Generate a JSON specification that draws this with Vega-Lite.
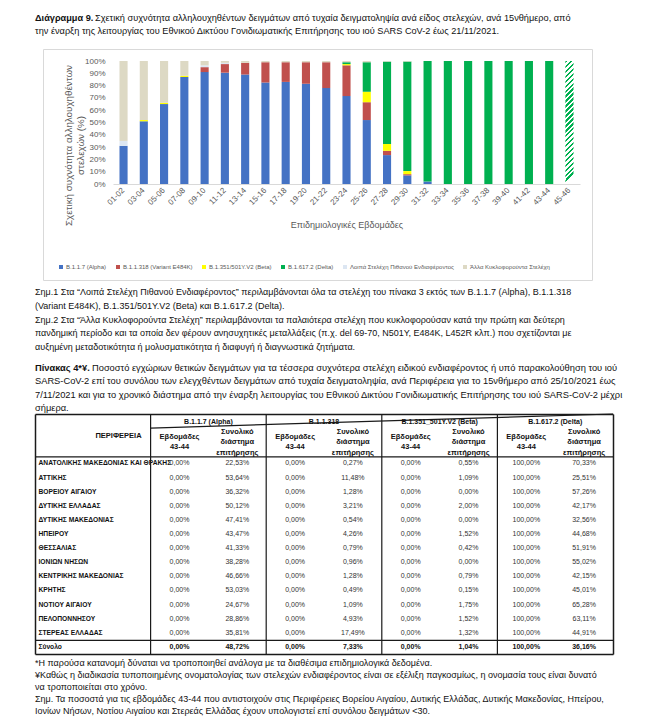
{
  "$schema": "https://vega.github.io/schema/vega-lite/v6.json",
  "background": "white",
  "padding": {"left": 35, "top": 0, "right": 5, "bottom": 0},
  "config": {"font": "Liberation Sans", "view": {"stroke": null}},
  "bounds": "flush",
  "spacing": 0,
  "resolve": {"scale": {"x": "independent", "y": "independent", "color": "independent"}, "legend": {"color": "independent"}},
  "datasets": {
    "cap": [
      {"n": 1, "seg": "head", "t": "Διάγραμμα 9."},
      {"n": 1, "seg": "rest", "t": "Σχετική συχνότητα αλληλουχηθέντων δειγμάτων από τυχαία δειγματοληψία ανά είδος στελεχών, ανά 15νθήμερο, από"},
      {"n": 2, "seg": "line", "t": "την έναρξη της λειτουργίας του Εθνικού Δικτύου Γονιδιωματικής Επιτήρησης του ιού SARS CoV-2 έως 21/11/2021."}
    ],
    "notes": [
      {"n": 1, "t": "Σημ.1 Στα “Λοιπά Στελέχη Πιθανού Ενδιαφέροντος” περιλαμβάνονται όλα τα στελέχη του πίνακα 3 εκτός των B.1.1.7 (Alpha), B.1.1.318"},
      {"n": 2, "t": "(Variant E484K), B.1.351/501Y.V2 (Beta) και B.1.617.2 (Delta)."},
      {"n": 3, "t": "Σημ.2 Στα “Άλλα Κυκλοφορούντα Στελέχη” περιλαμβάνονται τα παλαιότερα στελέχη που κυκλοφορούσαν κατά την πρώτη και δεύτερη"},
      {"n": 4, "t": "πανδημική περίοδο και τα οποία δεν φέρουν ανησυχητικές μεταλλάξεις (π.χ. del 69-70, N501Y, E484K, L452R κλπ.) που σχετίζονται με"},
      {"n": 5, "t": "αυξημένη μεταδοτικότητα ή μολυσματικότητα ή διαφυγή ή διαγνωστικά ζητήματα."}
    ],
    "tcap": [
      {"n": 1, "seg": "head", "t": "Πίνακας 4*¥."},
      {"n": 1, "seg": "rest", "t": "Ποσοστό εγχώριων θετικών δειγμάτων για τα τέσσερα συχνότερα στελέχη ειδικού ενδιαφέροντος ή υπό παρακολούθηση του ιού"},
      {"n": 2, "seg": "line", "t": "SARS-CoV-2 επί του συνόλου των ελεγχθέντων δειγμάτων από τυχαία δειγματοληψία, ανά Περιφέρεια για το 15νθήμερο από 25/10/2021 έως"},
      {"n": 3, "seg": "line", "t": "7/11/2021 και για το χρονικό διάστημα από την έναρξη λειτουργίας του Εθνικού Δικτύου Γονιδιωματικής Επιτήρησης του ιού SARS-CoV-2 μέχρι"},
      {"n": 4, "seg": "line", "t": "σήμερα."}
    ],
    "foot": [
      {"n": 1, "t": "*Η παρούσα κατανομή δύναται να τροποποιηθεί ανάλογα με τα διαθέσιμα επιδημιολογικά δεδομένα."},
      {"n": 2, "t": "¥Καθώς η διαδικασία τυποποιημένης ονοματολογίας των στελεχών ενδιαφέροντος είναι σε εξέλιξη παγκοσμίως, η ονομασία τους είναι δυνατό"},
      {"n": 3, "t": "να τροποποιείται στο χρόνο."},
      {"n": 4, "t": "Σημ. Τα ποσοστά για τις εβδομάδες 43-44 που αντιστοιχούν στις Περιφέρειες Βορείου Αιγαίου, Δυτικής Ελλάδας, Δυτικής Μακεδονίας, Ηπείρου,"},
      {"n": 5, "t": "Ιονίων Νήσων, Νοτίου Αιγαίου και Στερεάς Ελλάδας έχουν υπολογιστεί επί συνόλου δειγμάτων <30."}
    ],
    "rank": [
      {"s": "B.1.1.7 (Alpha)", "k": 1},
      {"s": "B.1.1.318 (Variant E484K)", "k": 2},
      {"s": "B.1.351/501Y.V2 (Beta)", "k": 3},
      {"s": "B.1.617.2 (Delta)", "k": 4},
      {"s": "Λοιπά Στελέχη Πιθανού Ενδιαφέροντος", "k": 5},
      {"s": "Άλλα Κυκλοφορούντα Στελέχη", "k": 6}
    ],
    "chart": [
      {"w": "01-02", "s": "B.1.1.7 (Alpha)", "p": 31},
      {"w": "01-02", "s": "Λοιπά Στελέχη Πιθανού Ενδιαφέροντος", "p": 4},
      {"w": "01-02", "s": "Άλλα Κυκλοφορούντα Στελέχη", "p": 65},
      {"w": "03-04", "s": "B.1.1.7 (Alpha)", "p": 51},
      {"w": "03-04", "s": "B.1.351/501Y.V2 (Beta)", "p": 1},
      {"w": "03-04", "s": "Άλλα Κυκλοφορούντα Στελέχη", "p": 48},
      {"w": "05-06", "s": "B.1.1.7 (Alpha)", "p": 65},
      {"w": "05-06", "s": "B.1.351/501Y.V2 (Beta)", "p": 1},
      {"w": "05-06", "s": "Άλλα Κυκλοφορούντα Στελέχη", "p": 34},
      {"w": "07-08", "s": "B.1.1.7 (Alpha)", "p": 87},
      {"w": "07-08", "s": "B.1.351/501Y.V2 (Beta)", "p": 1},
      {"w": "07-08", "s": "Άλλα Κυκλοφορούντα Στελέχη", "p": 12},
      {"w": "09-10", "s": "B.1.1.7 (Alpha)", "p": 91},
      {"w": "09-10", "s": "B.1.1.318 (Variant E484K)", "p": 4},
      {"w": "09-10", "s": "Λοιπά Στελέχη Πιθανού Ενδιαφέροντος", "p": 1.5},
      {"w": "09-10", "s": "Άλλα Κυκλοφορούντα Στελέχη", "p": 3.5},
      {"w": "11-12", "s": "B.1.1.7 (Alpha)", "p": 90.5},
      {"w": "11-12", "s": "B.1.1.318 (Variant E484K)", "p": 7},
      {"w": "11-12", "s": "Λοιπά Στελέχη Πιθανού Ενδιαφέροντος", "p": 1},
      {"w": "11-12", "s": "Άλλα Κυκλοφορούντα Στελέχη", "p": 1.5},
      {"w": "13-14", "s": "B.1.1.7 (Alpha)", "p": 89},
      {"w": "13-14", "s": "B.1.1.318 (Variant E484K)", "p": 9.5},
      {"w": "13-14", "s": "Άλλα Κυκλοφορούντα Στελέχη", "p": 1.5},
      {"w": "15-16", "s": "B.1.1.7 (Alpha)", "p": 82.5},
      {"w": "15-16", "s": "B.1.1.318 (Variant E484K)", "p": 16.5},
      {"w": "15-16", "s": "Άλλα Κυκλοφορούντα Στελέχη", "p": 1},
      {"w": "17-18", "s": "B.1.1.7 (Alpha)", "p": 83},
      {"w": "17-18", "s": "B.1.1.318 (Variant E484K)", "p": 16},
      {"w": "17-18", "s": "Άλλα Κυκλοφορούντα Στελέχη", "p": 1},
      {"w": "19-20", "s": "B.1.1.7 (Alpha)", "p": 81.5},
      {"w": "19-20", "s": "B.1.1.318 (Variant E484K)", "p": 17.5},
      {"w": "19-20", "s": "Άλλα Κυκλοφορούντα Στελέχη", "p": 1},
      {"w": "21-22", "s": "B.1.1.7 (Alpha)", "p": 78},
      {"w": "21-22", "s": "B.1.1.318 (Variant E484K)", "p": 21},
      {"w": "21-22", "s": "Άλλα Κυκλοφορούντα Στελέχη", "p": 1},
      {"w": "23-24", "s": "B.1.1.7 (Alpha)", "p": 71.5},
      {"w": "23-24", "s": "B.1.1.318 (Variant E484K)", "p": 25},
      {"w": "23-24", "s": "B.1.351/501Y.V2 (Beta)", "p": 1},
      {"w": "23-24", "s": "B.1.617.2 (Delta)", "p": 1.5},
      {"w": "23-24", "s": "Άλλα Κυκλοφορούντα Στελέχη", "p": 1},
      {"w": "25-26", "s": "B.1.1.7 (Alpha)", "p": 52},
      {"w": "25-26", "s": "B.1.1.318 (Variant E484K)", "p": 14.5},
      {"w": "25-26", "s": "B.1.351/501Y.V2 (Beta)", "p": 8.5},
      {"w": "25-26", "s": "B.1.617.2 (Delta)", "p": 24},
      {"w": "25-26", "s": "Άλλα Κυκλοφορούντα Στελέχη", "p": 1},
      {"w": "27-28", "s": "B.1.1.7 (Alpha)", "p": 23.5},
      {"w": "27-28", "s": "B.1.1.318 (Variant E484K)", "p": 3.5},
      {"w": "27-28", "s": "B.1.351/501Y.V2 (Beta)", "p": 5.5},
      {"w": "27-28", "s": "B.1.617.2 (Delta)", "p": 67},
      {"w": "27-28", "s": "Άλλα Κυκλοφορούντα Στελέχη", "p": 0.5},
      {"w": "29-30", "s": "B.1.1.7 (Alpha)", "p": 7},
      {"w": "29-30", "s": "B.1.1.318 (Variant E484K)", "p": 1},
      {"w": "29-30", "s": "B.1.351/501Y.V2 (Beta)", "p": 2.5},
      {"w": "29-30", "s": "B.1.617.2 (Delta)", "p": 89},
      {"w": "29-30", "s": "Άλλα Κυκλοφορούντα Στελέχη", "p": 0.5},
      {"w": "31-32", "s": "B.1.1.7 (Alpha)", "p": 2},
      {"w": "31-32", "s": "B.1.617.2 (Delta)", "p": 98},
      {"w": "33-34", "s": "B.1.617.2 (Delta)", "p": 100},
      {"w": "35-36", "s": "B.1.617.2 (Delta)", "p": 100},
      {"w": "37-38", "s": "B.1.617.2 (Delta)", "p": 100},
      {"w": "39-40", "s": "B.1.617.2 (Delta)", "p": 100},
      {"w": "41-42", "s": "B.1.617.2 (Delta)", "p": 100},
      {"w": "43-44", "s": "B.1.617.2 (Delta)", "p": 100},
      {"w": "45-46", "s": "B.1.617.2 (Delta)", "p": 100, "provisional": true}
    ],
    "tbl": [
      {"r": "ΑΝΑΤΟΛΙΚΗΣ ΜΑΚΕΔΟΝΙΑΣ ΚΑΙ ΘΡΑΚΗΣ", "a1": "0,00%", "a2": "22,53%", "b1": "0,00%", "b2": "0,27%", "c1": "0,00%", "c2": "0,55%", "d1": "100,00%", "d2": "70,33%"},
      {"r": "ΑΤΤΙΚΗΣ", "a1": "0,00%", "a2": "53,64%", "b1": "0,00%", "b2": "11,48%", "c1": "0,00%", "c2": "1,09%", "d1": "100,00%", "d2": "25,51%"},
      {"r": "ΒΟΡΕΙΟΥ ΑΙΓΑΙΟΥ", "a1": "0,00%", "a2": "36,32%", "b1": "0,00%", "b2": "1,28%", "c1": "0,00%", "c2": "0,00%", "d1": "100,00%", "d2": "57,26%"},
      {"r": "ΔΥΤΙΚΗΣ ΕΛΛΑΔΑΣ", "a1": "0,00%", "a2": "50,12%", "b1": "0,00%", "b2": "3,21%", "c1": "0,00%", "c2": "2,00%", "d1": "100,00%", "d2": "42,17%"},
      {"r": "ΔΥΤΙΚΗΣ ΜΑΚΕΔΟΝΙΑΣ", "a1": "0,00%", "a2": "47,41%", "b1": "0,00%", "b2": "0,54%", "c1": "0,00%", "c2": "0,00%", "d1": "100,00%", "d2": "32,56%"},
      {"r": "ΗΠΕΙΡΟΥ", "a1": "0,00%", "a2": "43,47%", "b1": "0,00%", "b2": "4,26%", "c1": "0,00%", "c2": "1,52%", "d1": "100,00%", "d2": "44,68%"},
      {"r": "ΘΕΣΣΑΛΙΑΣ", "a1": "0,00%", "a2": "41,33%", "b1": "0,00%", "b2": "0,79%", "c1": "0,00%", "c2": "0,42%", "d1": "100,00%", "d2": "51,91%"},
      {"r": "ΙΟΝΙΩΝ ΝΗΣΩΝ", "a1": "0,00%", "a2": "38,28%", "b1": "0,00%", "b2": "0,96%", "c1": "0,00%", "c2": "0,00%", "d1": "100,00%", "d2": "55,02%"},
      {"r": "ΚΕΝΤΡΙΚΗΣ ΜΑΚΕΔΟΝΙΑΣ", "a1": "0,00%", "a2": "46,66%", "b1": "0,00%", "b2": "1,28%", "c1": "0,00%", "c2": "0,79%", "d1": "100,00%", "d2": "42,15%"},
      {"r": "ΚΡΗΤΗΣ", "a1": "0,00%", "a2": "53,03%", "b1": "0,00%", "b2": "0,49%", "c1": "0,00%", "c2": "0,15%", "d1": "100,00%", "d2": "45,01%"},
      {"r": "ΝΟΤΙΟΥ ΑΙΓΑΙΟΥ", "a1": "0,00%", "a2": "24,67%", "b1": "0,00%", "b2": "1,09%", "c1": "0,00%", "c2": "1,75%", "d1": "100,00%", "d2": "65,28%"},
      {"r": "ΠΕΛΟΠΟΝΝΗΣΟΥ", "a1": "0,00%", "a2": "28,86%", "b1": "0,00%", "b2": "4,93%", "c1": "0,00%", "c2": "1,52%", "d1": "100,00%", "d2": "63,11%"},
      {"r": "ΣΤΕΡΕΑΣ ΕΛΛΑΔΑΣ", "a1": "0,00%", "a2": "35,81%", "b1": "0,00%", "b2": "17,49%", "c1": "0,00%", "c2": "1,32%", "d1": "100,00%", "d2": "44,91%"},
      {"r": "Σύνολο", "a1": "0,00%", "a2": "48,72%", "b1": "0,00%", "b2": "7,33%", "c1": "0,00%", "c2": "1,04%", "d1": "100,00%", "d2": "36,16%"}
    ],
    "th1": [
      {"col": "a1", "r": "h1", "t": "B.1.1.7 (Alpha)"},
      {"col": "b1", "r": "h1", "t": "B.1.1.318"},
      {"col": "c1", "r": "h1", "t": "B.1.351_501Y.V2 (Beta)"},
      {"col": "d1", "r": "h1", "t": "B.1.617.2 (Delta)"}
    ],
    "th2a": [
      {"col": "a1", "r": "h2", "t": "Εβδομάδες\n43-44"},
      {"col": "b1", "r": "h2", "t": "Εβδομάδες\n43-44"},
      {"col": "c1", "r": "h2", "t": "Εβδομάδες\n43-44"},
      {"col": "d1", "r": "h2", "t": "Εβδομάδες\n43-44"}
    ],
    "th2b": [
      {"col": "a2", "r": "h2", "t": "Συνολικό\nδιάστημα\nεπιτήρησης"},
      {"col": "b2", "r": "h2", "t": "Συνολικό\nδιάστημα\nεπιτήρησης"},
      {"col": "c2", "r": "h2", "t": "Συνολικό\nδιάστημα\nεπιτήρησης"},
      {"col": "d2", "r": "h2", "t": "Συνολικό\nδιάστημα\nεπιτήρησης"}
    ],
    "tvl": [{"col": "a1"}, {"col": "b1"}, {"col": "c1"}, {"col": "d1"}],
    "th1line": [{"col": "a1", "r": "h1"}]
  },
  "vconcat": [
    {
      "width": 549, "height": 49,
      "data": {"name": "cap"},
      "encoding": {
        "y": {"field": "n", "type": "ordinal", "scale": {"type": "point", "domain": [1, 2], "range": [18, 31], "padding": 0}, "axis": null},
        "x": {"datum": 0, "type": "quantitative", "scale": {"domain": [0, 1]}, "axis": null},
        "text": {"field": "t"}
      },
      "layer": [
        {"transform": [{"filter": "datum.seg == 'head'"}], "mark": {"type": "text", "align": "left", "baseline": "middle", "dx": -8, "fontSize": 9.2, "fontWeight": "bold", "color": "#111"}},
        {"transform": [{"filter": "datum.seg == 'rest'"}], "mark": {"type": "text", "align": "left", "baseline": "middle", "dx": 52, "fontSize": 9.2, "color": "#111"}},
        {"transform": [{"filter": "datum.seg == 'line'"}], "mark": {"type": "text", "align": "left", "baseline": "middle", "dx": -8, "fontSize": 9.2, "color": "#111"}}
      ]
    },
    {
      "width": 549, "height": 231,
      "view": {"stroke": "#d9d9d9", "strokeWidth": 1},
      "data": {"name": "chart"},
      "transform": [{"lookup": "s", "from": {"data": {"name": "rank"}, "key": "s", "fields": ["k"]}}],
      "encoding": {
        "x": {
          "field": "w", "type": "nominal",
          "scale": {"type": "band", "domain": ["01-02", "03-04", "05-06", "07-08", "09-10", "11-12", "13-14", "15-16", "17-18", "19-20", "21-22", "23-24", "25-26", "27-28", "29-30", "31-32", "33-34", "35-36", "37-38", "39-40", "41-42", "43-44", "45-46"], "range": [70, 537], "paddingInner": 0.6, "paddingOuter": 0.32},
          "axis": {"labelAngle": -45, "labelAlign": "right", "labelBaseline": "middle", "labelFontSize": 8, "labelColor": "#595959", "ticks": false, "domainColor": "#d9d9d9", "offset": -96, "labelPadding": 5, "title": "Επιδημιολογικές Εβδομάδες", "titleFontSize": 9, "titleFontWeight": "normal", "titleColor": "#595959", "titleY": 40, "titleBaseline": "middle"}
        },
        "y": {
          "field": "p", "type": "quantitative", "stack": "zero",
          "scale": {"domain": [0, 100], "range": [135, 12]},
          "axis": {"values": [0, 10, 20, 30, 40, 50, 60, 70, 80, 90, 100], "labelExpr": "datum.value + '%'", "grid": false, "ticks": false, "tickSize": 0, "domain": false, "offset": -65, "labelPadding": 3, "labelFontSize": 8, "labelColor": "#595959", "title": ["Σχετική συχνότητα αλληλουχηθέντων", "στελεχών (%)"], "titleFontSize": 9.8, "titleFontWeight": "normal", "titleColor": "#595959", "titleX": -40, "titleY": 96, "titleBaseline": "middle", "titleAlign": "center", "titleLineHeight": 12.5}
        }
      },
      "layer": [
        {
          "transform": [{"filter": "!datum.provisional"}],
          "mark": {"type": "bar"},
          "encoding": {
            "order": {"field": "k", "type": "quantitative", "sort": "ascending"},
            "color": {
              "field": "s", "type": "nominal",
              "scale": {"domain": ["B.1.1.7 (Alpha)", "B.1.1.318 (Variant E484K)", "B.1.351/501Y.V2 (Beta)", "B.1.617.2 (Delta)", "Λοιπά Στελέχη Πιθανού Ενδιαφέροντος", "Άλλα Κυκλοφορούντα Στελέχη"], "range": ["#4472C4", "#C0504D", "#FFFF00", "#00B050", "#DCE6F2", "#DDD9C4"]},
              "legend": {"orient": "none", "legendX": 15, "legendY": 215, "direction": "horizontal", "columns": 6, "title": null, "symbolType": "square", "symbolSize": 16, "symbolStrokeWidth": 0, "labelFontSize": 6, "labelColor": "#595959", "columnPadding": 8, "labelOffset": 2}
            }
          }
        },
        {
          "transform": [{"filter": "datum.provisional"}],
          "mark": {
            "type": "bar",
            "fill": {
              "gradient": "linear", "x1": 0, "y1": 0, "x2": 0.066, "y2": 1,
              "stops": [
                {"offset": 0, "color": "#00B050"}, {"offset": 0.02, "color": "#00B050"}, {"offset": 0.02, "color": "#ffffff"}, {"offset": 0.04, "color": "#ffffff"},
                {"offset": 0.04, "color": "#00B050"}, {"offset": 0.06, "color": "#00B050"}, {"offset": 0.06, "color": "#ffffff"}, {"offset": 0.08, "color": "#ffffff"},
                {"offset": 0.08, "color": "#00B050"}, {"offset": 0.1, "color": "#00B050"}, {"offset": 0.1, "color": "#ffffff"}, {"offset": 0.12, "color": "#ffffff"},
                {"offset": 0.12, "color": "#00B050"}, {"offset": 0.14, "color": "#00B050"}, {"offset": 0.14, "color": "#ffffff"}, {"offset": 0.16, "color": "#ffffff"},
                {"offset": 0.16, "color": "#00B050"}, {"offset": 0.18, "color": "#00B050"}, {"offset": 0.18, "color": "#ffffff"}, {"offset": 0.2, "color": "#ffffff"},
                {"offset": 0.2, "color": "#00B050"}, {"offset": 0.22, "color": "#00B050"}, {"offset": 0.22, "color": "#ffffff"}, {"offset": 0.24, "color": "#ffffff"},
                {"offset": 0.24, "color": "#00B050"}, {"offset": 0.26, "color": "#00B050"}, {"offset": 0.26, "color": "#ffffff"}, {"offset": 0.28, "color": "#ffffff"},
                {"offset": 0.28, "color": "#00B050"}, {"offset": 0.3, "color": "#00B050"}, {"offset": 0.3, "color": "#ffffff"}, {"offset": 0.32, "color": "#ffffff"},
                {"offset": 0.32, "color": "#00B050"}, {"offset": 0.34, "color": "#00B050"}, {"offset": 0.34, "color": "#ffffff"}, {"offset": 0.36, "color": "#ffffff"},
                {"offset": 0.36, "color": "#00B050"}, {"offset": 0.38, "color": "#00B050"}, {"offset": 0.38, "color": "#ffffff"}, {"offset": 0.4, "color": "#ffffff"},
                {"offset": 0.4, "color": "#00B050"}, {"offset": 0.42, "color": "#00B050"}, {"offset": 0.42, "color": "#ffffff"}, {"offset": 0.44, "color": "#ffffff"},
                {"offset": 0.44, "color": "#00B050"}, {"offset": 0.46, "color": "#00B050"}, {"offset": 0.46, "color": "#ffffff"}, {"offset": 0.48, "color": "#ffffff"},
                {"offset": 0.48, "color": "#00B050"}, {"offset": 0.5, "color": "#00B050"}, {"offset": 0.5, "color": "#ffffff"}, {"offset": 0.52, "color": "#ffffff"},
                {"offset": 0.52, "color": "#00B050"}, {"offset": 0.54, "color": "#00B050"}, {"offset": 0.54, "color": "#ffffff"}, {"offset": 0.56, "color": "#ffffff"},
                {"offset": 0.56, "color": "#00B050"}, {"offset": 0.58, "color": "#00B050"}, {"offset": 0.58, "color": "#ffffff"}, {"offset": 0.6, "color": "#ffffff"},
                {"offset": 0.6, "color": "#00B050"}, {"offset": 0.62, "color": "#00B050"}, {"offset": 0.62, "color": "#ffffff"}, {"offset": 0.64, "color": "#ffffff"},
                {"offset": 0.64, "color": "#00B050"}, {"offset": 0.66, "color": "#00B050"}, {"offset": 0.66, "color": "#ffffff"}, {"offset": 0.68, "color": "#ffffff"},
                {"offset": 0.68, "color": "#00B050"}, {"offset": 0.7, "color": "#00B050"}, {"offset": 0.7, "color": "#ffffff"}, {"offset": 0.72, "color": "#ffffff"},
                {"offset": 0.72, "color": "#00B050"}, {"offset": 0.74, "color": "#00B050"}, {"offset": 0.74, "color": "#ffffff"}, {"offset": 0.76, "color": "#ffffff"},
                {"offset": 0.76, "color": "#00B050"}, {"offset": 0.78, "color": "#00B050"}, {"offset": 0.78, "color": "#ffffff"}, {"offset": 0.8, "color": "#ffffff"},
                {"offset": 0.8, "color": "#00B050"}, {"offset": 0.82, "color": "#00B050"}, {"offset": 0.82, "color": "#ffffff"}, {"offset": 0.84, "color": "#ffffff"},
                {"offset": 0.84, "color": "#00B050"}, {"offset": 0.86, "color": "#00B050"}, {"offset": 0.86, "color": "#ffffff"}, {"offset": 0.88, "color": "#ffffff"},
                {"offset": 0.88, "color": "#00B050"}, {"offset": 0.9, "color": "#00B050"}, {"offset": 0.9, "color": "#ffffff"}, {"offset": 0.92, "color": "#ffffff"},
                {"offset": 0.92, "color": "#00B050"}, {"offset": 0.94, "color": "#00B050"}, {"offset": 0.94, "color": "#ffffff"}, {"offset": 0.96, "color": "#ffffff"},
                {"offset": 0.96, "color": "#00B050"}, {"offset": 0.98, "color": "#00B050"}, {"offset": 0.98, "color": "#ffffff"}, {"offset": 1, "color": "#ffffff"}
              ]
            }
          }
        }
      ]
    },
    {
      "width": 549, "height": 80,
      "data": {"name": "notes"},
      "mark": {"type": "text", "align": "left", "baseline": "middle", "dx": -8, "fontSize": 9, "color": "#111"},
      "encoding": {
        "y": {"field": "n", "type": "ordinal", "scale": {"type": "point", "domain": [1, 2, 3, 4, 5], "range": [12, 67], "padding": 0}, "axis": null},
        "x": {"datum": 0, "type": "quantitative", "scale": {"domain": [0, 1]}, "axis": null},
        "text": {"field": "t"}
      }
    },
    {
      "width": 549, "height": 54,
      "data": {"name": "tcap"},
      "encoding": {
        "y": {"field": "n", "type": "ordinal", "scale": {"type": "point", "domain": [1, 2, 3, 4], "range": [8, 48], "padding": 0}, "axis": null},
        "x": {"datum": 0, "type": "quantitative", "scale": {"domain": [0, 1]}, "axis": null},
        "text": {"field": "t"}
      },
      "layer": [
        {"transform": [{"filter": "datum.seg == 'head'"}], "mark": {"type": "text", "align": "left", "baseline": "middle", "dx": -8, "fontSize": 9.3, "fontWeight": "bold", "color": "#111"}},
        {"transform": [{"filter": "datum.seg == 'rest'"}], "mark": {"type": "text", "align": "left", "baseline": "middle", "dx": 49, "fontSize": 9.3, "color": "#111"}},
        {"transform": [{"filter": "datum.seg == 'line'"}], "mark": {"type": "text", "align": "left", "baseline": "middle", "dx": -8, "fontSize": 9.3, "color": "#111"}}
      ]
    },
    {
      "width": 570, "height": 240,
      "resolve": {"axis": {"x": "independent", "y": "independent"}},
      "layer": [
        {
          "data": {"name": "tbl"},
          "transform": [{"filter": "datum.r != 'Σύνολο'"}, {"fold": ["a1", "a2", "b1", "b2", "c1", "c2", "d1", "d2"]}],
          "mark": {"type": "text", "align": "center", "baseline": "middle", "fontSize": 7, "color": "#333"},
          "encoding": {
            "x": {"field": "key", "type": "nominal",
              "scale": {"type": "band", "domain": ["a1", "a2", "b1", "b2", "c1", "c2", "d1", "d2"], "range": [-8, 570], "paddingInner": 0, "paddingOuter": 1.625, "align": 1},
              "axis": {"orient": "top", "domain": true, "domainColor": "#1a1a1a", "domainWidth": 1.5, "labels": false, "ticks": false, "grid": false, "title": null}},
            "y": {"field": "r", "type": "nominal",
              "scale": {"type": "band", "domain": ["h1", "h2", "h2b", "ΑΝΑΤΟΛΙΚΗΣ ΜΑΚΕΔΟΝΙΑΣ ΚΑΙ ΘΡΑΚΗΣ", "ΑΤΤΙΚΗΣ", "ΒΟΡΕΙΟΥ ΑΙΓΑΙΟΥ", "ΔΥΤΙΚΗΣ ΕΛΛΑΔΑΣ", "ΔΥΤΙΚΗΣ ΜΑΚΕΔΟΝΙΑΣ", "ΗΠΕΙΡΟΥ", "ΘΕΣΣΑΛΙΑΣ", "ΙΟΝΙΩΝ ΝΗΣΩΝ", "ΚΕΝΤΡΙΚΗΣ ΜΑΚΕΔΟΝΙΑΣ", "ΚΡΗΤΗΣ", "ΝΟΤΙΟΥ ΑΙΓΑΙΟΥ", "ΠΕΛΟΠΟΝΝΗΣΟΥ", "ΣΤΕΡΕΑΣ ΕΛΛΑΔΑΣ", "Σύνολο"], "paddingInner": 0, "paddingOuter": 0},
              "axis": {"orient": "left", "offset": 8, "domain": true, "domainColor": "#1a1a1a", "domainWidth": 1.5, "ticks": false, "tickSize": 0, "grid": false, "labelAlign": "left", "labelPadding": -3, "labelFontWeight": "bold", "labelFontSize": 6.7, "labelColor": "#111", "labelLimit": 0, "labelOverlap": false, "labelExpr": "datum.value == 'h1' || datum.value == 'h2' || datum.value == 'h2b' ? '' : datum.value", "title": "ΠΕΡΙΦΕΡΕΙΑ", "titleAngle": 0, "titleX": 83, "titleY": 21, "titleAlign": "center", "titleBaseline": "middle", "titleFontSize": 7.5, "titleFontWeight": "bold", "titleColor": "#111"}},
            "text": {"field": "value", "type": "nominal"}
          }
        },
        {
          "data": {"name": "tbl"},
          "transform": [{"filter": "datum.r == 'Σύνολο'"}, {"fold": ["a1", "a2", "b1", "b2", "c1", "c2", "d1", "d2"]}],
          "mark": {"type": "text", "align": "center", "baseline": "middle", "fontSize": 7, "fontWeight": "bold", "color": "#111"},
          "encoding": {
            "x": {"field": "key", "type": "nominal", "axis": {"orient": "bottom", "domain": true, "domainColor": "#1a1a1a", "domainWidth": 1.5, "labels": false, "ticks": false, "grid": false, "title": null}},
            "y": {"field": "r", "type": "nominal", "axis": null},
            "text": {"field": "value", "type": "nominal"}
          }
        },
        {
          "data": {"name": "th1"},
          "mark": {"type": "text", "align": "center", "baseline": "middle", "dy": 0.5, "fontSize": 7, "fontWeight": "bold", "color": "#111"},
          "encoding": {
            "x": {"field": "col", "type": "nominal", "bandPosition": 1, "axis": {"orient": "top", "offset": -42.35, "domain": true, "domainColor": "#1a1a1a", "domainWidth": 1.3, "labels": false, "ticks": false, "grid": false, "title": null}},
            "y": {"field": "r", "type": "nominal", "axis": {"orient": "right", "domain": true, "domainColor": "#1a1a1a", "domainWidth": 1.5, "labels": false, "ticks": false, "grid": false, "title": null}},
            "text": {"field": "t", "type": "nominal"}
          }
        },
        {
          "data": {"name": "th2a"},
          "mark": {"type": "text", "align": "center", "baseline": "middle", "dy": -5.25, "fontSize": 7.5, "fontWeight": "bold", "color": "#111", "lineBreak": "\n", "lineHeight": 10.5},
          "encoding": {
            "x": {"field": "col", "type": "nominal", "axis": {"orient": "bottom", "offset": -14.1, "domain": true, "domainColor": "#1a1a1a", "domainWidth": 1.3, "labels": false, "ticks": false, "grid": false, "title": null}},
            "y": {"field": "r", "type": "nominal", "bandPosition": 1, "axis": null},
            "text": {"field": "t", "type": "nominal"}
          }
        },
        {
          "data": {"name": "th2b"},
          "mark": {"type": "text", "align": "center", "baseline": "middle", "dy": -10.5, "fontSize": 7.5, "fontWeight": "bold", "color": "#111", "lineBreak": "\n", "lineHeight": 10.5},
          "encoding": {
            "x": {"field": "col", "type": "nominal", "axis": null},
            "y": {"field": "r", "type": "nominal", "bandPosition": 1, "axis": null},
            "text": {"field": "t", "type": "nominal"}
          }
        },
        {
          "data": {"name": "tvl"},
          "mark": {"type": "rule", "color": "#1a1a1a", "strokeWidth": 1.2},
          "encoding": {
            "x": {"field": "col", "type": "nominal", "bandPosition": 0, "axis": null}
          }
        },
        {
          "data": {"name": "th1line"},
          "mark": {"type": "rule", "color": "#1a1a1a", "strokeWidth": 1.2, "x2": "width"},
          "encoding": {
            "x": {"field": "col", "type": "nominal", "bandPosition": 0, "axis": null},
            "y": {"field": "r", "type": "nominal", "bandPosition": 1, "axis": null}
          }
        }
      ]
    },
    {
      "width": 549, "height": 64,
      "data": {"name": "foot"},
      "mark": {"type": "text", "align": "left", "baseline": "middle", "dx": -8, "fontSize": 9, "color": "#111"},
      "encoding": {
        "y": {"field": "n", "type": "ordinal", "scale": {"type": "point", "domain": [1, 2, 3, 4, 5], "range": [9, 57], "padding": 0}, "axis": null},
        "x": {"datum": 0, "type": "quantitative", "scale": {"domain": [0, 1]}, "axis": null},
        "text": {"field": "t"}
      }
    }
  ]
}
